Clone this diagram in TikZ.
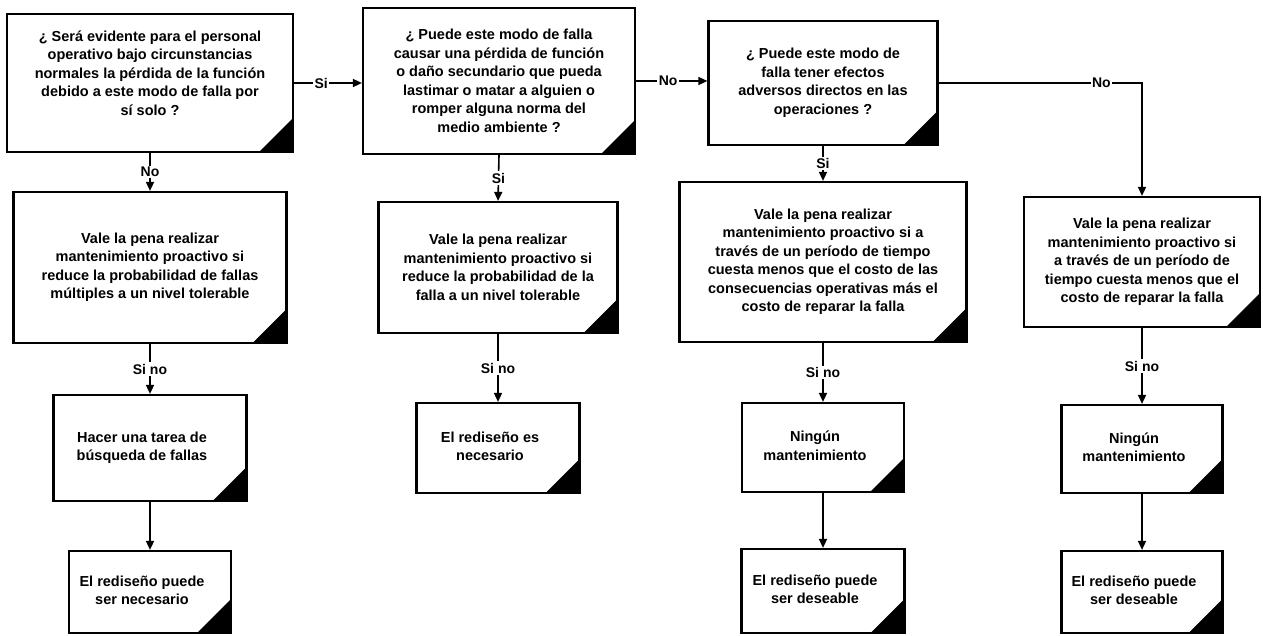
\documentclass[tikz,border=0pt]{standalone}
\usepackage{fontspec}
\setmainfont{Liberation Sans}
\usetikzlibrary{arrows.meta}
% lines of a small box, set slightly left of centre to clear the folded corner
\newcommand\leftlines[1]{\begin{tabular}{@{}c@{\hspace{16pt}}}#1\end{tabular}}
\begin{document}
\begin{tikzpicture}[x=1pt,y=-1pt,
  box/.style={draw, line width=2.2pt, fill=white, inner sep=0pt, align=center,
    font=\bfseries\fontsize{14.5}{18.5}\selectfont,
    path picture={\fill[black] ([xshift=-34pt]path picture bounding box.south east)
      -- (path picture bounding box.south east)
      -- ([yshift=34pt]path picture bounding box.south east) -- cycle;}},
  lbl/.style={fill=white, inner sep=1.5pt, font=\bfseries\fontsize{14}{16}\selectfont},
  conn/.style={line width=1.6pt, -{Triangle[length=9pt,width=8pt]}}
]
\useasboundingbox (0,0) rectangle (1263,636);

% top row: the three questions
\node[box, minimum width=286pt, minimum height=138pt, text depth=20pt] (b1) at (150,83)
  {¿ Será evidente para el personal\\ operativo bajo circunstancias\\ normales la pérdida de la función\\ debido a este modo de falla por\\ sí solo ?};
\node[box, minimum width=272pt, minimum height=146pt] (b2) at (499,81)
  {¿ Puede este modo de falla\\ causar una pérdida de función\\ o daño secundario que pueda\\ lastimar o matar a alguien o\\ romper alguna norma del\\ medio ambiente ?};
\node[box, minimum width=229pt, minimum height=124pt] (b3) at (823,83)
  {¿ Puede este modo de\\ falla tener efectos\\ adversos directos en las\\ operaciones ?};

% second row: proactive maintenance criteria
\node[box, minimum width=273pt, minimum height=151pt] (b4) at (150,267.5)
  {Vale la pena realizar\\ mantenimiento proactivo si\\ reduce la probabilidad de fallas\\ múltiples a un nivel tolerable};
\node[box, minimum width=239pt, minimum height=131pt] (b5) at (498,267.5)
  {Vale la pena realizar\\ mantenimiento proactivo si\\ reduce la probabilidad de la\\ falla a un nivel tolerable};
\node[box, minimum width=287pt, minimum height=160pt] (b6) at (823,262)
  {Vale la pena realizar\\ mantenimiento proactivo si a\\ través de un período de tiempo\\ cuesta menos que el costo de las\\ consecuencias operativas más el\\ costo de reparar la falla};
\node[box, minimum width=236pt, minimum height=130pt] (b7) at (1142,262)
  {Vale la pena realizar\\ mantenimiento proactivo si\\ a través de un período de\\ tiempo cuesta menos que el\\ costo de reparar la falla};

% third row: default actions
\node[box, minimum width=193pt, minimum height=106pt] (b8) at (150,448)
  {\leftlines{Hacer una tarea de\\ búsqueda de fallas}};
\node[box, minimum width=163pt, minimum height=90pt] (b10) at (498,448)
  {\leftlines{El rediseño es\\ necesario}};
\node[box, minimum width=162pt, minimum height=89pt] (b11) at (823,447.5)
  {\leftlines{Ningún\\ mantenimiento}};
\node[box, minimum width=161pt, minimum height=88pt] (b13) at (1142,449)
  {\leftlines{Ningún\\ mantenimiento}};

% bottom row: redesign outcomes
\node[box, minimum width=162pt, minimum height=82pt] (b9) at (150,592)
  {\leftlines{El rediseño puede\\ ser necesario}};
\node[box, minimum width=163pt, minimum height=84pt] (b12) at (823,591)
  {\leftlines{El rediseño puede\\ ser deseable}};
\node[box, minimum width=161pt, minimum height=82pt] (b14) at (1142,592)
  {\leftlines{El rediseño puede\\ ser deseable}};

% horizontal connectors along the question row
\draw[conn] (b1.east) -- node[lbl, pos=0.4]{Si} (b1.east -| b2.west);
\draw[conn] (b2.east) -- node[lbl, pos=0.45]{No} (b2.east -| b3.west);
\coordinate (turn) at (b3.east -| b7.north);
\draw[conn] (b3.east) -- node[lbl, pos=0.8]{No} (turn) -- (b7.north);

% vertical connectors
\draw[conn] (b1.south) -- node[lbl]{No} (b4.north);
\draw[conn] (b2.south) -- node[lbl]{Si} (b5.north);
\draw[conn] (b3.south) -- node[lbl]{Si} (b6.north);

\draw[conn] (b4.south) -- node[lbl]{Si no} (b8.north);
\draw[conn] (b5.south) -- node[lbl]{Si no} (b10.north);
\draw[conn] (b6.south) -- node[lbl]{Si no} (b11.north);
\draw[conn] (b7.south) -- node[lbl]{Si no} (b13.north);

\draw[conn] (b8.south) -- (b9.north);
\draw[conn] (b11.south) -- (b12.north);
\draw[conn] (b13.south) -- (b14.north);
\end{tikzpicture}
\end{document}
